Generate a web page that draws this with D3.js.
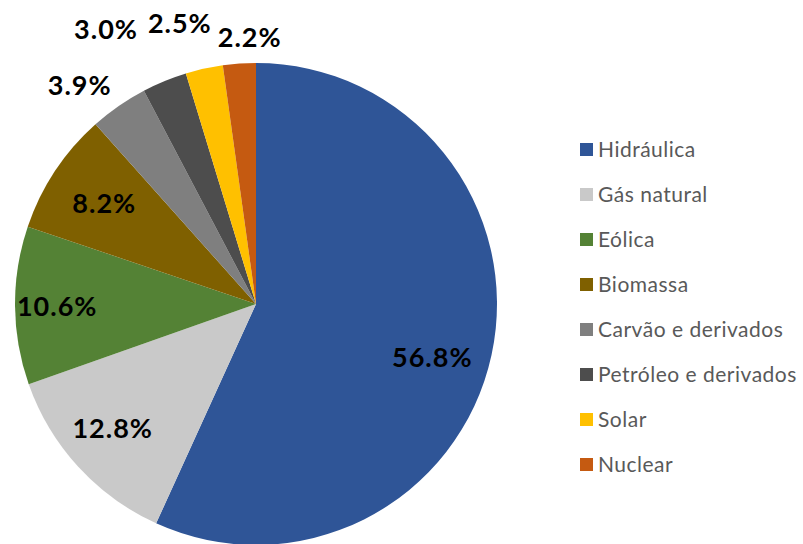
<!DOCTYPE html>
<html>
<head>
<meta charset="utf-8">
<script src="https://cdn.jsdelivr.net/npm/d3@7"></script>
<style>
  body { margin: 0; background: #fff; }
  svg { display: block; }
</style>
</head>
<body>
<div id="chart"></div>
<script>
// share of each source (%)
var categories = ["Hidráulica", "Gás natural", "Eólica", "Biomassa",
  "Carvão e derivados", "Petróleo e derivados", "Solar", "Nuclear"];
var values = [56.8, 12.8, 10.6, 8.2, 3.9, 3.0, 2.5, 2.2];
var labels = ["56.8%", "12.8%", "10.6%", "8.2%", "3.9%", "3.0%", "2.5%", "2.2%"];

var colors = ["#2F5597", "#C9C9C9", "#548235", "#7F6000",
  "#7F7F7F", "#4D4D4D", "#FFC000", "#C55A11"];

var W = 803, H = 544;
var cx = 256, cy = 304, r = 241;

var svg = d3.select("#chart").append("svg")
  .attr("width", W).attr("height", H);

var color = d3.scaleOrdinal().domain(categories).range(colors);

var pie = d3.pie().sort(null).value(function(d) { return d.v; });
var data = categories.map(function(c, i) { return { name: c, v: values[i], label: labels[i] }; });
var arcs = pie(data);

var arc = d3.arc().innerRadius(0).outerRadius(r);

var g = svg.append("g").attr("transform", "translate(" + cx + "," + cy + ")");

g.selectAll("path")
  .data(arcs).enter()
  .append("path")
  .attr("d", arc)
  .attr("fill", function(d) { return color(d.data.name); });

// label placement: big slices inside, small ones pushed outside (best fit like)
var labelRadius = [0.74, 0.75, 0.8, 0.72, 1.16, 1.3, 1.2, 1.1];
var labelShift = [[2, 15], [-10, 2], [-6, 1], [-7, -5], [-17, 11], [-31, 15], [-14, 2], [12, -2]];

g.selectAll("text.lbl")
  .data(arcs).enter()
  .append("text")
  .attr("class", "lbl")
  .attr("x", function(d, i) {
    var a = (d.startAngle + d.endAngle) / 2;
    return Math.sin(a) * r * labelRadius[i] + labelShift[i][0];
  })
  .attr("y", function(d, i) {
    var a = (d.startAngle + d.endAngle) / 2;
    return -Math.cos(a) * r * labelRadius[i] + labelShift[i][1];
  })
  .attr("text-anchor", "middle")
  .attr("dy", "0.36em")
  .style("font-family", "Lato, 'Open Sans', sans-serif")
  .style("font-weight", "bold")
  .style("font-size", "27px")
  .style("letter-spacing", "1px")
  .style("fill", "#000")
  .text(function(d) { return d.data.label; });

// legend
var legend = svg.append("g").attr("transform", "translate(580,149)");
var rowY = d3.scalePoint().domain(categories).range([0, 315]);

var item = legend.selectAll("g")
  .data(categories).enter()
  .append("g")
  .attr("transform", function(d) { return "translate(0," + rowY(d) + ")"; });

item.append("rect")
  .attr("x", 0).attr("y", -6)
  .attr("width", 13).attr("height", 13)
  .attr("fill", function(d) { return color(d); });

item.append("text")
  .attr("x", 18)
  .attr("dy", "0.36em")
  .style("font-family", "Lato, 'Open Sans', sans-serif")
  .style("font-size", "21px")
  .style("letter-spacing", "0.5px")
  .style("fill", "#595959")
  .text(function(d) { return d; });
</script>
</body>
</html>
